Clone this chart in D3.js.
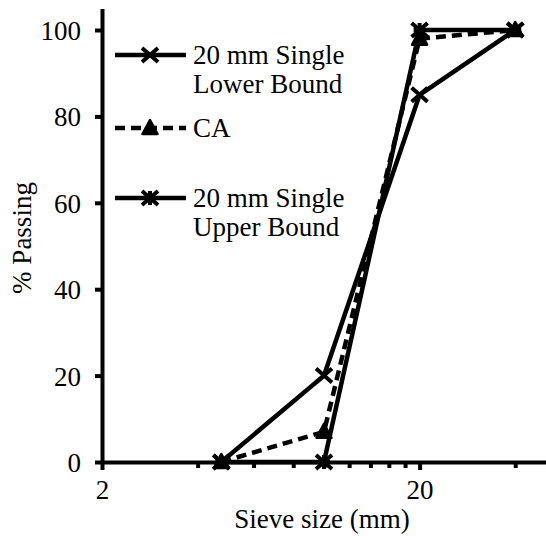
<!DOCTYPE html>
<html>
<head>
<meta charset="utf-8">
<script src="https://cdn.jsdelivr.net/npm/d3@7"></script>
<style>
  html, body { margin: 0; padding: 0; background: #fff; }
</style>
</head>
<body>
<svg id="chart" width="546" height="540"></svg>
<script>
// Sieve sizes (mm) and percentage passing for each grading curve
const sieveSizes = [4.75, 10, 20, 40];
const lowerBound = [0, 20, 85, 100];
const caPassing  = [0, 7, 98, 100];
const upperBound = [0, 0, 100, 100];

const seriesNames = [["20 mm Single", "Lower Bound"], ["CA"], ["20 mm Single", "Upper Bound"]];
const seriesMarkers = ["cross", "triangle", "star"];
const seriesDashed = [false, true, false];

const yTickValues = [0, 20, 40, 60, 80, 100];
const xTickValues = [2, 4, 6, 8, 10, 12, 14, 16, 18, 20, 40];
const xTickLabels = [2, 20];

const svg = d3.select("#chart");
const FONT = 27;

// Every text element gets the serif face and size through this helper
function serif(sel) {
  return sel.attr("font-size", FONT).style("font-family", "Liberation Serif");
}

const x = d3.scaleLog().domain([2, 50]).range([102, 546]);
const y = d3.scaleLinear().domain([0, 105]).range([462, 8.4]);

// Y axis
const yAxis = svg.append("g")
  .attr("transform", "translate(102,0)")
  .call(d3.axisLeft(y).tickValues(yTickValues).tickSize(7).tickSizeOuter(0).tickPadding(14).tickFormat(d3.format("d")))
  .attr("font-family", null).attr("font-size", null);
yAxis.select(".domain").attr("stroke", "#000").attr("stroke-width", 4);
yAxis.selectAll(".tick line").attr("stroke", "#000").attr("stroke-width", 4);
serif(yAxis.selectAll(".tick text").attr("fill", "#000").attr("dy", "0.35em"));

// X axis (log scale, minor ticks every 2 mm below 20)
const xAxis = svg.append("g")
  .attr("transform", "translate(0,462)")
  .call(d3.axisBottom(x).tickValues(xTickValues).tickSize(6).tickSizeOuter(0).tickPadding(12)
    .tickFormat(d => xTickLabels.includes(d) ? String(d) : ""))
  .attr("font-family", null).attr("font-size", null);
xAxis.select(".domain").attr("stroke", "#000").attr("stroke-width", 4);
xAxis.selectAll(".tick line").attr("stroke", "#000").attr("stroke-width", 4)
  .attr("y2", d => xTickLabels.includes(d) ? 8 : 6);
serif(xAxis.selectAll(".tick text").attr("fill", "#000"));

// Axis titles
serif(svg.append("text")
  .attr("x", 322).attr("y", 528)
  .attr("text-anchor", "middle"))
  .text("Sieve size (mm)");
serif(svg.append("text")
  .attr("transform", "translate(31,238) rotate(-90)")
  .attr("text-anchor", "middle"))
  .text("% Passing");

// Marker shapes
function drawMarker(g, type, cx, cy) {
  const sx = 8, sy = 7;
  if (type === "cross" || type === "star") {
    g.append("path")
      .attr("d", `M${cx - sx},${cy - sy}L${cx + sx},${cy + sy}M${cx - sx},${cy + sy}L${cx + sx},${cy - sy}`)
      .attr("stroke", "#000").attr("stroke-width", 4).attr("fill", "none");
    if (type === "star") {
      g.append("path")
        .attr("d", `M${cx},${cy - sy}L${cx},${cy + sy}M${cx - sx + 2},${cy}L${cx + sx - 2},${cy}`)
        .attr("stroke", "#000").attr("stroke-width", 4).attr("fill", "none");
    }
  } else if (type === "triangle") {
    g.append("path")
      .attr("d", `M${cx},${cy - 8}L${cx + 7.5},${cy + 6}L${cx - 7.5},${cy + 6}Z`)
      .attr("stroke", "#000").attr("stroke-width", 2.5).attr("stroke-linejoin", "round").attr("fill", "#000");
  }
}

const allSeries = [lowerBound, caPassing, upperBound];
const line = d3.line().x(d => x(d[0])).y(d => y(d[1]));

const plot = svg.append("g");
allSeries.forEach((vals, i) => {
  const pts = sieveSizes.map((s, j) => [s, vals[j]]);
  plot.append("path")
    .datum(pts)
    .attr("d", line)
    .attr("fill", "none")
    .attr("stroke", "#000")
    .attr("stroke-width", 4.5)
    .attr("stroke-linejoin", "round")
    .attr("stroke-dasharray", seriesDashed[i] ? "10,6" : null);
  const mg = plot.append("g");
  pts.forEach(p => drawMarker(mg, seriesMarkers[i], x(p[0]), y(p[1])));
});

// Legend
const legendRows = [55, 128, 198];
const legend = svg.append("g");
seriesNames.forEach((lines, i) => {
  const ly = legendRows[i];
  legend.append("line")
    .attr("x1", 115).attr("x2", 186).attr("y1", ly).attr("y2", ly)
    .attr("stroke", "#000").attr("stroke-width", 4.5)
    .attr("stroke-dasharray", seriesDashed[i] ? "10,6" : null);
  drawMarker(legend, seriesMarkers[i], 150, ly);
  const t = serif(legend.append("text").attr("x", 193).attr("y", ly + 9));
  lines.forEach((s, k) => {
    t.append("tspan").attr("x", 193).attr("dy", k === 0 ? 0 : 29).text(s);
  });
});
</script>
</body>
</html>
